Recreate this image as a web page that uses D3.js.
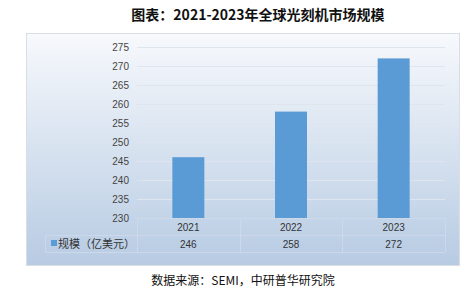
<!DOCTYPE html>
<html>
<head>
<meta charset="utf-8">
<script src="https://cdn.jsdelivr.net/npm/d3@7"></script>
<style>
  body { margin: 0; background: #fff; }
  svg { display: block; }
</style>
</head>
<body>
<script>
const width = 468
const height = 293

const title = '图表：2021-2023年全球光刻机市场规模'
const source = '数据来源：SEMI，中研普华研究院'
const seriesName = '规模（亿美元）'
const years = ['2021', '2022', '2023']
const values = [246, 258, 272]
const yTicks = [230, 235, 240, 245, 250, 255, 260, 265, 270, 275]

const svg = d3.select('body').append('svg')
  .attr('width', width)
  .attr('height', height)

const defs = svg.append('defs')
const grad = defs.append('linearGradient')
  .attr('id', 'bg')
  .attr('x1', 0).attr('y1', 0).attr('x2', 0).attr('y2', 1)
grad.append('stop').attr('offset', '0%').attr('stop-color', '#f7f9fc')
grad.append('stop').attr('offset', '100%').attr('stop-color', '#b7cbe3')

// title
svg.append('text')
  .attr('x', 258).attr('y', 20)
  .attr('text-anchor', 'middle')
  .style('font-family', '"Noto Sans CJK SC", sans-serif')
  .style('font-weight', 'bold')
  .style('font-size', '14px')
  .attr('fill', '#111')
  .text(title)

// panel
svg.append('rect')
  .attr('x', 26.5).attr('y', 33.5)
  .attr('width', 433).attr('height', 232)
  .attr('fill', 'url(#bg)')
  .attr('stroke', '#d9dee6')

const plot = { left: 137, right: 445, top: 47, bottom: 218 }

const x = d3.scaleBand()
  .domain(years)
  .range([plot.left, plot.right])

const y = d3.scaleLinear()
  .domain([230, 275])
  .range([plot.bottom, plot.top])

// gridlines
svg.append('g')
  .selectAll('line')
  .data(yTicks)
  .enter().append('line')
    .attr('x1', plot.left).attr('x2', plot.right)
    .attr('y1', d => Math.round(y(d)) + 0.5)
    .attr('y2', d => Math.round(y(d)) + 0.5)
    .attr('stroke', '#dfe5ee')
    .attr('stroke-width', 1)

// y axis labels
const yAxis = svg.append('g')
  .attr('transform', `translate(${plot.left - 8},0)`)
  .call(d3.axisLeft(y).tickValues(yTicks).tickSize(0).tickPadding(0))
yAxis.select('.domain').remove()
yAxis.selectAll('text')
  .style('font-family', '"Liberation Sans", Arial, sans-serif')
  .style('font-size', '10px')
  .attr('fill', '#444')

// bars
const barW = 32
svg.append('g')
  .selectAll('rect')
  .data(values)
  .enter().append('rect')
    .attr('x', (d, i) => x(years[i]) + x.bandwidth() / 2 - barW / 2)
    .attr('y', d => y(d))
    .attr('width', barW)
    .attr('height', d => y(230) - y(d))
    .attr('fill', '#5b9bd5')

// data table
const rowH = 17
const t0 = plot.bottom
const table = svg.append('g')
  .attr('fill', 'none')
  .attr('stroke', '#cdd9e8')
  .attr('stroke-width', 1)

table.append('line')
  .attr('x1', plot.left).attr('x2', plot.right)
  .attr('y1', t0 + 0.5).attr('y2', t0 + 0.5)
table.append('line')
  .attr('x1', 45).attr('x2', plot.right)
  .attr('y1', t0 + rowH + 0.5).attr('y2', t0 + rowH + 0.5)
table.append('line')
  .attr('x1', 45).attr('x2', plot.right)
  .attr('y1', t0 + rowH * 2 + 0.5).attr('y2', t0 + rowH * 2 + 0.5)
table.append('line')
  .attr('x1', 45.5).attr('x2', 45.5)
  .attr('y1', t0 + rowH).attr('y2', t0 + rowH * 2)
table.selectAll('.vline')
  .data(years.concat(['end']))
  .enter().append('line')
    .attr('x1', (d, i) => Math.round(i < years.length ? x(d) : plot.right) + 0.5)
    .attr('x2', (d, i) => Math.round(i < years.length ? x(d) : plot.right) + 0.5)
    .attr('y1', t0).attr('y2', t0 + rowH * 2)

const cellFont = '"Liberation Sans", Arial, sans-serif'
svg.append('g')
  .selectAll('text')
  .data(years)
  .enter().append('text')
    .attr('x', d => x(d) + x.bandwidth() / 2)
    .attr('y', t0 + 13)
    .attr('text-anchor', 'middle')
    .style('font-family', cellFont)
    .style('font-size', '10px')
    .attr('fill', '#333')
    .text(d => d)

svg.append('g')
  .selectAll('text')
  .data(values)
  .enter().append('text')
    .attr('x', (d, i) => x(years[i]) + x.bandwidth() / 2)
    .attr('y', t0 + rowH + 13)
    .attr('text-anchor', 'middle')
    .style('font-family', cellFont)
    .style('font-size', '10px')
    .attr('fill', '#333')
    .text(d => d)

// legend key
svg.append('rect')
  .attr('x', 51).attr('y', t0 + rowH + 5)
  .attr('width', 6).attr('height', 6)
  .attr('fill', '#5b9bd5')
svg.append('text')
  .attr('x', 58).attr('y', t0 + rowH + 13)
  .style('font-family', '"Noto Sans CJK SC", sans-serif')
  .style('font-size', '11px')
  .attr('fill', '#333')
  .text(seriesName)

// source
svg.append('text')
  .attr('x', 243).attr('y', 285)
  .attr('text-anchor', 'middle')
  .style('font-family', '"Noto Sans CJK SC", sans-serif')
  .style('font-size', '12px')
  .attr('fill', '#111')
  .text(source)
</script>
</body>
</html>
